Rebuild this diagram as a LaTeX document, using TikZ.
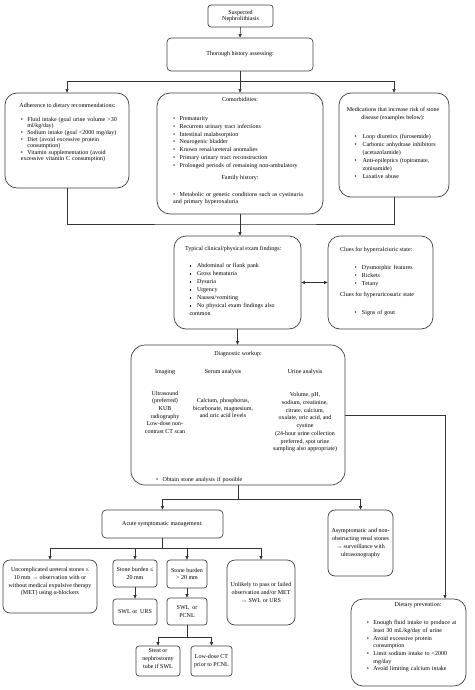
\documentclass[tikz,border=0pt]{standalone}
\usepackage{fontspec}
\setmainfont{Liberation Serif}
\usetikzlibrary{arrows.meta,fit,calc}
\newlength\bw \setlength\bw{6.5pt}
\newcommand\li[2][\textbullet]{\par\hangindent=\bw\hangafter=1\noindent\makebox[\bw][l]{#1}#2}
\newcommand\sqb{\raisebox{0.9pt}{\rule{1.6pt}{1.6pt}}}
\newcommand\fs[1]{\fontsize{6}{#1}\selectfont}
\newcommand\nl{\newline}
\begin{document}
\begin{tikzpicture}[x=1pt,y=-1pt,
 box/.style={draw=black!75, line width=0.7pt, inner sep=0pt},
 arr/.style={draw=black!80, line width=0.6pt, -{Triangle[length=3.5pt,width=3pt]}},
 darr/.style={draw=black!80, line width=0.6pt, {Triangle[length=3.5pt,width=3pt]}-{Triangle[length=3.5pt,width=3pt]}},
 ln/.style={draw=black!80, line width=0.6pt},
 txt/.style={inner sep=0pt, font=\fs{7.8}, align=center},
 lst/.style={inner sep=0pt, anchor=north west, text width=#1, align=left},
]
\newcommand\bx[6]{\node[box, rounded corners=#6, fit={(#2,#3) (#4,#5)}] (#1) {};}
\useasboundingbox (0,0) rectangle (474,690);
\fill[white] (0,0) rectangle (474,690);
% boxes
\bx{susp}{208}{5}{273}{27}{3pt}
\bx{thor}{167}{38}{313}{71}{4pt}
\bx{adh}{5}{93}{129}{188}{12pt}
\bx{com}{157}{93}{323}{214}{13pt}
\bx{med}{339}{93}{449}{197}{12pt}
\bx{exam}{174}{236}{301}{329}{12pt}
\bx{clue}{328}{236}{433}{329}{12pt}
\bx{diag}{131}{345}{345}{485}{14pt}
\bx{acute}{102}{510}{223}{538}{4pt}
\bx{asym}{328}{510}{393}{576}{7pt}
\bx{unc}{3}{560}{97}{613}{7pt}
\bx{sle}{113}{560}{157}{587}{3pt}
\bx{sgt}{167}{560}{207}{588}{3pt}
\bx{swlurs}{113}{599}{157}{625}{3pt}
\bx{pcnl}{167}{598}{207}{625}{3pt}
\bx{unl}{227}{560}{295}{625}{8pt}
\bx{stent}{136}{646}{180}{676}{3pt}
\bx{lowct}{191}{646}{232}{676}{3pt}
\bx{diet}{351}{599}{466}{686}{12pt}
% connectors
\draw[arr] (susp.south) -- (thor.north);
\coordinate (j1) at (240,81);
\draw[ln] (thor.south) -- (j1);
\draw[arr] (j1) -| (adh.north);
\draw[arr] (j1) -- (com.north);
\draw[arr] (j1) -| (med.north);
\coordinate (j2) at (240,224);
\draw[ln] (adh.south) |- (j2) -| (med.south);
\draw[arr] (com.south) -- (com.south |- exam.north);
\draw[arr] (exam.south) -- (exam.south |- diag.north);
\draw[darr] (exam.east) -- (clue.west);
\coordinate (j3) at (445,415);
\draw[arr] (diag.east) -- (diag.east -| j3) -- (j3 |- diet.north);
\coordinate (j4) at (238,499);
\draw[ln] (diag.south) -- (j4);
\draw[arr] (j4) -| (acute.north);
\draw[arr] (j4) -| (asym.north);
\coordinate (j5) at (162.5,548);
\draw[ln] (acute.south) -- (j5);
\draw[arr] (j5) -| (unc.north);
\draw[arr] (j5) -| (sle.north);
\draw[arr] (j5) -| (sgt.north);
\draw[arr] (j5) -| (unl.north);
\draw[arr] (sle.south) -- (swlurs.north);
\draw[arr] (sgt.south) -- (pcnl.north);
\coordinate (j6) at (187,637);
\draw[ln] (pcnl.south) -- (j6);
\draw[arr] (j6) -| (stent.north);
\draw[arr] (j6) -| (lowct.north);
% texts
\node[txt, font=\fs{6.8}] (t_susp) at (susp.center) {Suspected\\Nephrolithiasis};
\node[txt] (t_thor) at (thor.center) {Thorough history assessing:};
\node[txt, anchor=north] (t_adh) at (67.5,103.2) {Adherence to dietary recommendations:};
\node[lst=110pt, font=\fs{5.7}] (l_adh) at (20.7,114.2) {\setlength\parskip{1.5pt}\li{Fluid intake (goal urine volume >30\nl ml/kg/day)}\li{Sodium intake (goal <2000 mg/day)}\li{Diet (avoid excessive protein\nl consumption)}\li{Vitamin supplementation (avoid\nl excessive vitamin C consumption)}};
\node[txt, anchor=north] (t_com) at (240,97.5) {Comorbidities:};
\node[lst=150pt, font=\fs{7.8}] (l_com) at (173,112.5) {\li{Prematurity}\li{Recurrent urinary tract infections}\li{Intestinal malabsorption}\li{Neurogenic bladder}\li{Known renal/ureteral anomalies}\li{Primary urinary tract reconstruction}\li{Prolonged periods of remaining non-ambulatory}};
\node[txt, anchor=north] (t_fam) at (240,174.8) {Family history:};
\node[lst=150pt, font=\fs{7.6}] (l_fam) at (173,188.2) {\li{Metabolic or genetic conditions such as cystinuria\nl and primary hyperoxaluria}};
\node[txt, anchor=north, font=\fs{8}] (t_med) at (393,107.5) {Medications that increase risk of stone\\disease (examples below):};
\node[lst=100pt, font=\fs{7.9}] (l_med) at (354.3,130.5) {\setlength\bw{8pt}\li{Loop diuretics (furosemide)}\li{Carbonic anhydrase inhibitors\nl (acetazolamide)}\li{Anti-epileptics (topiramate,\nl zonisamide)}\li{Laxative abuse}};
\node[txt, anchor=north west] (t_exam) at (185,245.8) {Typical clinical/physical exam findings:};
\node[lst=100pt, font=\fs{7.95}] (l_exam) at (189.3,259.8) {\setlength\bw{7.5pt}\li[\sqb]{Abdominal or flank pank}\li[\sqb]{Gross hematuria}\li[\sqb]{Dysuria}\li[\sqb]{Urgency}\li[\sqb]{Nausea/vomiting}\li[\sqb]{No physical exam findings also\nl common}};
\node[txt, anchor=north west] (t_cl1) at (340,246.8) {Clues for hypercalciuric state:};
\node[lst=80pt, font=\fs{8}] (l_cl1) at (354.3,261.5) {\setlength\bw{7.5pt}\li{Dysmorphic features}\li{Rickets}\li{Tetany}};
\node[txt, anchor=north west] (t_cl2) at (340,291.8) {Clues for hyperuricosuric state};
\node[lst=80pt, font=\fs{8}] (l_cl2) at (354.3,305.8) {\setlength\bw{7.5pt}\li{Signs of gout}};
\node[txt, anchor=north] (t_diag) at (238,351.5) {Diagnostic workup:};
\node[txt, anchor=north] (h_img) at (165,369.2) {Imaging};
\node[txt, anchor=north] (h_ser) at (223,369.2) {Serum analysis};
\node[txt, anchor=north] (h_uri) at (305,369.2) {Urine analysis};
\node[txt, anchor=north, font=\fs{7.7}] (b_img) at (165,390.8) {Ultrasound\\(preferred)\\KUB\\radiography\\Low-dose non-\\contrast CT scan};
\node[txt, anchor=north, font=\fs{7.5}] (b_ser) at (223,398.5) {Calcium, phosphorus,\\bicarbonate, magnesium,\\and uric acid levels};
\node[txt, anchor=north, font=\fs{7.7}] (b_uri) at (305,392.5) {Volume, pH,\\sodium, creatinine,\\citrate, calcium,\\oxalate, uric acid, and\\cystine\\(24-hour urine collection\\preferred, spot urine\\sampling also appropriate)};
\node[lst=120pt, font=\fs{7.7}] (l_diag) at (156,473.2) {\li{Obtain stone analysis if possible}};
\node[txt] (t_acu) at (acute.center) {Acute symptomatic management:};
\node[txt] (t_asy) at (asym.center) {Asymptomatic and non-\\obstructing renal stones\\→ surveillance with\\ultrasonography};
\node[txt] (t_unc) at (50,581.7) {Uncomplicated ureteral stones ≤\\10 mm → observation with or\\without medical expulsive therapy\\(MET) using α-blockers};
\node[txt] (t_sle) at (sle.center) {Stone burden ≤\\20 mm};
\node[txt] (t_sgt) at (sgt.center) {Stone burden\\> 20 mm};
\node[txt] (t_swlurs) at (swlurs.center) {SWL or~ URS};
\node[txt] (t_pcnl) at (pcnl.center) {SWL~ or\\PCNL};
\node[txt] (t_unl) at (unl.center) {Unlikely to pass or failed\\observation and/or MET\\→ SWL or URS};
\node[txt] (t_stent) at (158,658.5) {Stent or\\nephrostomy\\tube if SWL};
\node[txt] (t_lowct) at (lowct.center) {Low-dose CT\\prior to PCNL};
\node[txt] (t_diet) at (418,605) {Dietary prevention:};
\node[lst=110pt, font=\fs{7.7}] (l_diet) at (366.7,616.8) {\li{Enough fluid intake to produce at\nl least 30 mL/kg/day of urine}\li{Avoid excessive protein\nl consumption}\li{Limit sodium intake to <2000\nl mg/day}\li{Avoid limiting calcium intake}};
\end{tikzpicture}
\end{document}
